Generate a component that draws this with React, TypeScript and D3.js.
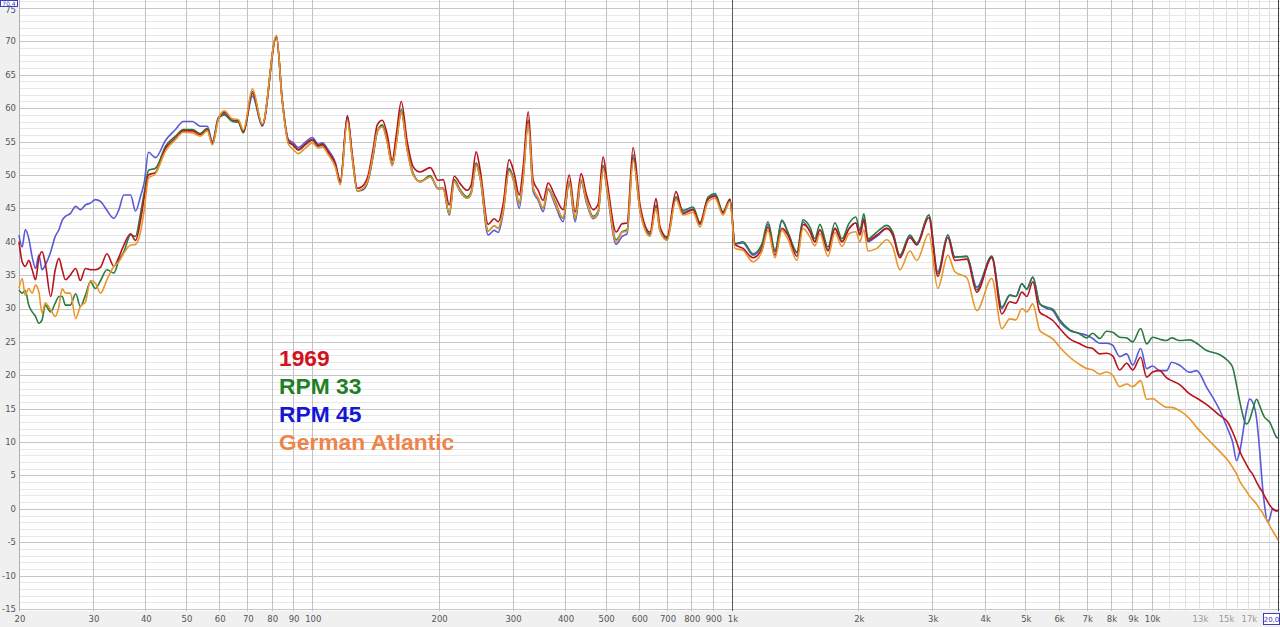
import React, { useEffect, useRef } from "react";
import * as d3 from "d3";

const W = 1280;
const H = 627;

// ---------- DATA ----------
const freqs: number[] = [
  20, 20.35, 20.7, 21.1, 21.5, 21.9, 22.3, 22.7, 23.1, 23.8, 24.4, 24.9, 25.35, 25.8, 26.5, 27.3, 28.0, 28.8, 29.6, 30.4,
  31.3, 32.4, 33.65, 34.6, 35.55, 36.9, 37.9, 38.96, 39.8,
  40.7, 42.3, 44.7, 47.2, 49.3, 51.8, 54.1, 56.2, 57.8, 59.7, 61.7, 64.5, 66.6, 68.5, 72.0, 76.0, 82.1, 84.8, 87.7, 90.1,
  92.6, 96.2, 100, 103.4, 105.6, 109.2, 113.4, 116.6, 121.2, 124.5, 128, 131.5, 135.9, 139.7, 142.8, 146.8, 150.9, 155,
  158.5, 162.9, 168.3, 174, 180.7, 191, 199.5, 205, 212, 217.8, 225, 233.9, 239, 245.7, 251.2, 262.4, 271.2, 277.3, 285,
  294.4, 302.7, 311.1, 318, 326.9, 335.9, 345.3, 354.8, 364.7, 379, 395.9, 409.2, 422.9, 437.1, 449.2, 466.7, 479.7,
  493.1, 504, 529.5, 547.2, 562.3, 581.2, 604, 638, 659.2, 673.8, 700.1, 735.6, 764.3, 807.3, 839, 877, 911.2, 951.9,
  989, 1016.5, 1062, 1122, 1179, 1218, 1266, 1315, 1359, 1428, 1476, 1534, 1576, 1620, 1693, 1759, 1828, 1899, 1973,
  2017, 2062, 2108, 2214, 2339, 2417, 2512, 2653, 2757, 2944, 3093, 3268, 3396, 3627, 3831, 4159, 4395, 4593, 4746,
  4905, 5040, 5210, 5412, 5623, 5812, 6040, 6380, 6702, 7001, 7235, 7520, 7813, 8073, 8390, 8719, 9010, 9415, 9730,
  10055, 10447, 10856, 11158, 11659, 12316, 12797, 13521, 14520, 15170, 15591, 15937, 16200, 16835, 17110, 17398,
  17783, 18073, 18380, 18580, 18890, 19100, 19420, 19850, 20000,
];

const values1969: number[] = [
  40, 37, 36.3, 37.2, 35.8, 34.3, 37.5, 38.5, 36.8, 31.8, 35.8, 37.5, 35.8, 34.3, 35, 36, 34.2, 36, 35.8, 35.8,
  36.2, 38.2, 36.3, 37.7, 39.5, 41.2, 40.2, 43.2, 46.8,
  50, 50.4, 54, 55.5, 56.6, 56.6, 56, 56.8, 54.6, 58.4, 59.4, 58.3, 58.2, 56.5, 62.5, 57.5, 70.8, 61.2, 55, 54.5,
  53.8, 54.6, 55.3, 54.4, 54.6, 53.4, 51.7, 49, 58.8, 53, 48, 48.3, 50, 54, 57.5, 58.2, 56, 52.2,
  56, 61, 55, 51.2, 50.45, 51.1, 49.2, 49.3, 45.5, 49.8, 48.7, 47.7, 48.5, 53.45, 50.7, 42.6, 43.45, 43, 45.7,
  52.3, 50.2, 47, 51.2, 59.45, 49.2, 47.7, 46.2, 48.8, 46.8, 44.8, 50, 44.45, 50.2, 47.2, 44.8, 45.6,
  52.7, 49, 41.45, 42.7, 42.8, 54.1, 45.45, 41.45, 46.45, 42.2, 40.7, 47.5, 44.2, 44.8, 42.7, 46.4, 46.8, 44.3,
  46.3, 39.6, 39, 37.6, 39, 42.2, 38, 42, 41, 37.8, 42.6, 41.6, 40, 41.8, 38.6, 42, 40, 41.9, 42.8,
  41, 43.2, 40.2, 41, 42, 41, 37.6, 40.6, 39.5, 43.6, 34.8, 40.6, 37.2, 37.4, 32.45, 37.6, 29.2, 31, 30.8,
  32.45, 31.8, 34, 29.45, 28.8, 28.2, 27, 25.45, 24.8, 24.2, 24, 23.2, 23.3, 22.9, 20.8, 21.8, 20.8, 22.7, 19.7,
  20.5, 20.7, 19.6, 19.2, 18.6, 17.2, 16.6, 15.6, 14, 13, 11.5, 10, 8.7, 6.6, 5.8, 5.2,
  4, 3.2, 2.5, 1.9, 1.1, 0.6, 0, -0.3, -0.2,
];

const valuesRpm33: number[] = [
  32.8, 32.3, 32.7, 30.5, 29.5, 28.8, 27.8, 28.3, 30.5, 29.5, 30.8, 31.8, 31.8, 30.5, 30.5, 32.2, 30.3, 32, 34, 33,
  34.2, 35.8, 35.3, 37.2, 38.5, 41, 40.8, 44.2, 47.5,
  50.7, 51, 54.3, 55.8, 56.8, 56.8, 56.2, 57, 54.8, 58.4, 59, 58, 57.9, 56.3, 62.2, 57.4, 70.7, 61, 55, 54.4,
  53.7, 54.5, 55.2, 54.3, 54.5, 53.3, 51.5, 48.8, 58.6, 52.6, 47.6, 47.8, 49.3, 53, 56.5, 57.5, 55, 51.6,
  55, 59.8, 54, 50.2, 49, 49.9, 48, 48, 44.1, 49.3, 47.8, 46.7, 47.5, 51.8, 49.7, 41.6, 42.4, 42, 44.8,
  51, 49, 45.8, 50, 58.2, 48, 46.5, 45, 48, 46, 43.5, 49, 43.4, 49.2, 46.4, 43.8, 44.6,
  51.45, 48, 40.3, 41.5, 41.8, 53, 44.8, 41.2, 45.45, 41.8, 40.5, 46.7, 44.7, 45.2, 42.9, 46.7, 47.2, 44.5,
  46.4, 39.7, 40, 38.2, 39.7, 43, 38.7, 43.2, 41.45, 38.45, 43.3, 42.2, 40.45, 42.6, 39.2, 42.85, 40.45, 42.7, 43.7,
  41.7, 44.2, 40.45, 41.45, 42.45, 41.4, 38, 41, 39.8, 44, 35.2, 41, 37.7, 37.8, 32.8, 37.8, 30.2, 32, 31.8,
  33.7, 32.9, 34.7, 30.7, 30.2, 29.9, 28.3, 26.8, 26.3, 25.6, 26.3, 25.5, 26.6, 26.45, 25.7, 25.6, 25, 27, 24.7,
  25.7, 25.4, 25.2, 25.6, 25.2, 25.3, 24.8, 23.7, 23.1, 22.2, 21.2, 18.5, 16.2, 12.7, 13.3, 14.8,
  16.4, 15.5, 14.3, 13.7, 13.3, 13, 12, 10.7, 10.6,
];

const valuesRpm45: number[] = [
  41, 39.2, 41.8, 40.5, 37.7, 36, 38, 35.8, 36.5, 38.5, 40.8, 41.8, 43.2, 43.8, 44.2, 45.3, 44.8, 45.5, 45.8, 46.3,
  46, 44.7, 43.5, 44.8, 47, 47, 44.6, 46.8, 49,
  53.4, 52.6, 55.2, 56.8, 58, 58, 57.3, 57.3, 55, 58.6, 59.2, 58.2, 58, 56.4, 61.8, 57.3, 70.7, 61.2, 55.3, 54.8,
  54.1, 54.9, 55.6, 54.6, 54.8, 53.7, 51.9, 49.1, 58.9, 52.8, 47.6, 47.7, 49.2, 53, 56.5, 57.3, 55, 51.4,
  54.8, 59.3, 53.8, 50, 49, 49.7, 47.9, 48, 44, 49, 47.5, 46.5, 47.2, 51.5, 49.4, 41, 41.7, 41.4, 44.4,
  50.8, 48.8, 45, 49.6, 58, 47.5, 46.2, 44.5, 47.8, 45.5, 43, 48.8, 43, 49, 46, 43.45, 44.2,
  51.2, 47.6, 39.6, 40.8, 41.2, 52.6, 44.6, 41, 45.3, 41.6, 40.3, 46.7, 44.4, 44.9, 42.6, 46.4, 47, 44.3,
  46.2, 39.7, 39.8, 38, 39.5, 42.6, 38.5, 43.2, 41.3, 38.3, 43, 41.5, 40, 41.8, 38.8, 42, 40, 42, 42.8,
  41.2, 43.5, 40, 40.8, 42, 41, 37.8, 40.8, 39.6, 44, 35.5, 41, 37.7, 37.8, 33.2, 37.8, 30, 32, 31.8,
  33.7, 32.9, 34.7, 30.7, 30, 29.7, 28, 26.7, 26.3, 26, 25.5, 24.8, 24.8, 24.5, 22.8, 23.2, 21.5, 24, 21,
  21.4, 20.7, 20.7, 21.95, 21.5, 20.45, 20.7, 18.2, 14.8, 12, 10, 7.2, 8.5, 14.8, 16.45, 16,
  13.5, 9, 3.2, 0.5, -2, -1.5, 0, -0.3, -0.3,
];

const valuesGermanAtlantic: number[] = [
  33, 34.5, 32, 33, 32.3, 33.5, 32.5, 29.3, 30.8, 29.8, 28.8, 30.3, 33, 32.3, 32.3, 28.5, 30.3, 31, 34.2, 33.8,
  32.3, 34.3, 36.3, 37, 38.3, 39.5, 39.6, 41.5, 45,
  49.5, 50.2, 53.6, 55.3, 56.4, 56.3, 55.8, 56.6, 54.5, 58.3, 59.6, 58.4, 58.3, 56.7, 62.9, 57.6, 70.9, 61, 54.6, 53.8,
  53.2, 54, 54.8, 54, 54.2, 53, 51.2, 48.5, 58.1, 52.4, 47.6, 47.9, 49.4, 53.2, 56.5, 57.2, 54.8, 51.4,
  54.6, 59.4, 53.7, 50, 49, 49.7, 48, 47.9, 44.2, 49, 47.6, 46.5, 47.2, 51.5, 49.5, 41.6, 42.4, 42, 44.6,
  50.6, 48.8, 45.6, 49.5, 57.7, 48, 46.5, 45, 48, 45.8, 43.6, 49, 43.5, 49.3, 46.3, 43.6, 44.4,
  51, 47.8, 40, 41.4, 41.6, 52.2, 44.6, 40.8, 45, 41.6, 40.2, 46.3, 44, 44.4, 42.2, 46, 46.5, 44,
  46, 39, 38.7, 37, 38.6, 41.7, 37.6, 41.7, 40.4, 37.2, 42, 40.7, 39.4, 41.2, 37.8, 41.4, 39.3, 41.2, 41.5,
  40, 41.8, 38.6, 39, 40.3, 39.2, 35.8, 38.6, 37.2, 41.2, 33, 38, 35.5, 34.6, 29.7, 34.5, 27, 28.45, 28.3,
  30, 29.5, 30.7, 26.7, 26, 25.45, 24.2, 22.7, 21.7, 21, 20.8, 20.2, 20.5, 20, 18.3, 18.7, 18.3, 19.2, 16.4,
  16.5, 15.8, 15.2, 15.2, 14.7, 13.5, 12.2, 10.6, 8.6, 7.3, 6.2, 5.2, 4.2, 2.6, 1.9, 1.4,
  0.7, 0, -0.6, -1.2, -1.8, -2.5, -3.3, -4.3, -4.7,
];

const seriesNames = ["1969", "RPM 33", "RPM 45", "German Atlantic"];
const lineColors = ["#b8141e", "#2b7b40", "#5a5ad6", "#e8962a"];
const legendColors = ["#d3131c", "#1f7f26", "#1616d2", "#f08348"];

const yTicks: number[] = [-15, -10, -5, 0, 5, 10, 15, 20, 25, 30, 35, 40, 45, 50, 55, 60, 65, 70, 75];
const xTickValues: number[] = [20, 30, 40, 50, 60, 70, 80, 90, 100, 200, 300, 400, 500, 600, 700, 800, 900, 1000,
  2000, 3000, 4000, 5000, 6000, 7000, 8000, 9000, 10000, 13000, 15000, 17000];
const xTickLabels: string[] = ["20", "30", "40", "50", "60", "70", "80", "90", "100", "200", "300", "400", "500", "600",
  "700", "800", "900", "1k", "2k", "3k", "4k", "5k", "6k", "7k", "8k", "9k", "10k", "13k", "15k", "17k"];
const gridFreqs: number[] = [20, 30, 40, 50, 60, 70, 80, 90, 100, 200, 300, 400, 500, 600, 700, 800, 900, 1000,
  2000, 3000, 4000, 5000, 6000, 7000, 8000, 9000, 10000, 11000, 12000, 13000, 14000, 15000, 16000, 17000, 18000, 19000, 20000];

export default function App() {
  const ref = useRef<SVGSVGElement | null>(null);

  useEffect(() => {
    document.body.style.margin = "0";
    const svg = d3.select(ref.current);
    svg.selectAll("*").remove();

    const left = 19;
    const right = 1278;
    const plotBottom = 611;
    const x = d3.scaleLog().domain([20, 20000]).range([left, right]);
    const y = d3.scaleLinear().domain([-15, 75]).range([609, 8]);

    svg.append("rect").attr("x", 0).attr("y", 0).attr("width", W).attr("height", H).attr("fill", "#f0f0f0");
    svg.append("rect").attr("x", left).attr("y", 0).attr("width", right - left + 2).attr("height", plotBottom).attr("fill", "#ffffff");

    const grid = svg.append("g");
    for (let v = -15; v <= 76; v++) {
      const major = v % 5 === 0;
      grid.append("line")
        .attr("x1", left).attr("x2", W)
        .attr("y1", Math.round(y(v)) + 0.5).attr("y2", Math.round(y(v)) + 0.5)
        .attr("stroke", major ? "#c6c6c6" : "#e8e8e8").attr("stroke-width", 1);
    }
    gridFreqs.forEach((f) => {
      let c = "#c2c2c2";
      if (f === 1000) c = "#5a5a5a";
      else if (f > 10000 && f < 20000) c = "#e0e0e0";
      else if (f === 20000) c = "#404040";
      grid.append("line")
        .attr("x1", Math.round(x(f)) + 0.5).attr("x2", Math.round(x(f)) + 0.5)
        .attr("y1", 0).attr("y2", plotBottom)
        .attr("stroke", c).attr("stroke-width", 1);
    });
    grid.append("line").attr("x1", left + 0.5).attr("x2", left + 0.5).attr("y1", 0).attr("y2", plotBottom)
      .attr("stroke", "#b0b0b0");

    // y labels
    svg.append("g").selectAll("text").data(yTicks).join("text")
      .attr("x", 16).attr("y", (d) => y(d) + (d === 75 ? 2 : 0))
      .attr("dy", "0.35em")
      .attr("text-anchor", "end")
      .attr("font-family", "DejaVu Sans, sans-serif")
      .attr("font-size", 8.5)
      .attr("fill", "#555")
      .text((d) => String(d));

    // x labels
    svg.append("g").selectAll("text").data(xTickValues).join("text")
      .attr("x", (d) => x(d) + 1)
      .attr("y", 622)
      .attr("text-anchor", "middle")
      .attr("font-family", "DejaVu Sans, sans-serif")
      .attr("font-size", 8.5)
      .attr("fill", (d) => (d > 10000 ? "#9a9a9a" : "#555"))
      .text((d, i) => xTickLabels[i]);

    // boxed cursor labels
    svg.append("rect").attr("x", 0.5).attr("y", 0.5).attr("width", 17).attr("height", 6)
      .attr("fill", "#fff").attr("stroke", "#3d3dbf");
    svg.append("text").attr("x", 9).attr("y", 6).attr("text-anchor", "middle")
      .attr("font-family", "DejaVu Sans, sans-serif").attr("font-size", 6).attr("fill", "#3d3dbf").text("70.4");
    svg.append("rect").attr("x", 1263.5).attr("y", 613.5).attr("width", 16).attr("height", 11)
      .attr("fill", "#fff").attr("stroke", "#3d3dbf");
    svg.append("text").attr("x", 1271.5).attr("y", 622).attr("text-anchor", "middle")
      .attr("font-family", "DejaVu Sans, sans-serif").attr("font-size", 7).attr("fill", "#3d3dbf").text("20,0");

    // lines
    const allValues = [values1969, valuesRpm33, valuesRpm45, valuesGermanAtlantic];
    const drawOrder = [2, 1, 0, 3];
    const line = d3.line<[number, number]>()
      .x((d) => x(d[0]))
      .y((d) => y(d[1]))
      .curve(d3.curveMonotoneX);
    const lg = svg.append("g");
    drawOrder.forEach((si) => {
      const pts: [number, number][] = freqs.map((f, i) => [f, allValues[si][i]]);
      lg.append("path")
        .attr("d", line(pts) as string)
        .attr("fill", "none")
        .attr("stroke", lineColors[si])
        .attr("stroke-width", 1.6)
        .attr("stroke-linejoin", "round");
    });

    // legend
    const legend = svg.append("g");
    seriesNames.forEach((name, i) => {
      legend.append("text")
        .attr("x", 279).attr("y", 366 + i * 28)
        .attr("font-family", "Liberation Sans, Arial, sans-serif")
        .attr("font-weight", "bold")
        .attr("font-size", 22.8)
        .attr("fill", legendColors[i])
        .text(name);
    });
  }, []);

  return (
    <div style={{ position: "absolute", left: 0, top: 0 }}>
      <svg ref={ref} width={W} height={H} style={{ display: "block" }} />
    </div>
  );
}
